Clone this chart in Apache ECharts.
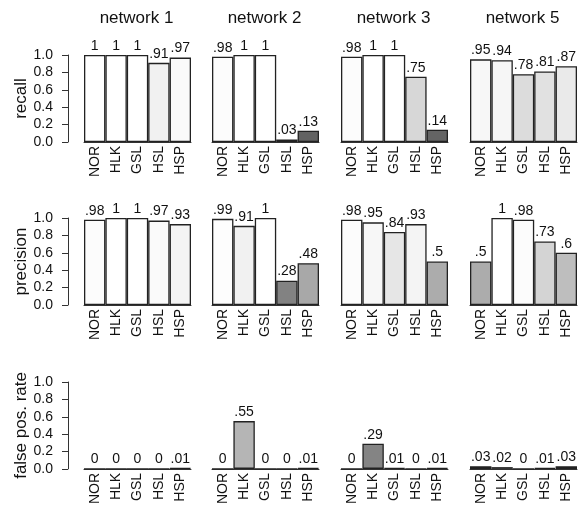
<!DOCTYPE html>
<html>
<head>
<meta charset="utf-8">
<script src="https://cdn.jsdelivr.net/npm/echarts@6/dist/echarts.min.js"></script>
<style>
  html, body { margin: 0; padding: 0; background: #fff; }
  #main { width: 584px; height: 507px; }
</style>
</head>
<body>
<div id="main"></div>
<script>
// categories and panels
var methods = ['NOR', 'HLK', 'GSL', 'HSL', 'HSP'];
var networks = ['network 1', 'network 2', 'network 3', 'network 5'];
var metrics = ['recall', 'precision', 'false pos. rate'];

// values, one array per network
var recall1 = [1, 1, 1, 0.91, 0.97];
var recall2 = [0.98, 1, 1, 0.03, 0.13];
var recall3 = [0.98, 1, 1, 0.75, 0.14];
var recall5 = [0.95, 0.94, 0.78, 0.81, 0.87];

var precision1 = [0.98, 1, 1, 0.97, 0.93];
var precision2 = [0.99, 0.91, 1, 0.28, 0.48];
var precision3 = [0.98, 0.95, 0.84, 0.93, 0.5];
var precision5 = [0.5, 1, 0.98, 0.73, 0.6];

var fpr1 = [0, 0, 0, 0, 0.01];
var fpr2 = [0, 0.55, 0, 0, 0.01];
var fpr3 = [0, 0.29, 0.01, 0, 0.01];
var fpr5 = [0.03, 0.02, 0, 0.01, 0.03];

var rows = [
  [recall1, recall2, recall3, recall5],
  [precision1, precision2, precision3, precision5],
  [fpr1, fpr2, fpr3, fpr5]
];

// layout of the small panels
var colLeft = [84, 212, 341, 470];
var colWidth = 107;
var rowTop = [55, 218, 382];
var rowHeight = 87;
var font = 'Liberation Sans, Arial, sans-serif';

// bar fill goes from dark grey (low) to white (high)
function grey(v) {
  var g = Math.round(60 + 195 * Math.pow(v, 0.8));
  return 'rgb(' + g + ',' + g + ',' + g + ')';
}

function fmt(v) {
  if (v === 1) return '1';
  if (v === 0) return '0';
  return String(v).replace(/^0/, '');
}

var grid = [], xAxis = [], yAxis = [], series = [], title = [];

networks.forEach(function (name, c) {
  title.push({
    text: name,
    left: colLeft[c] + colWidth / 2 - 6,
    top: 5,
    textAlign: 'center',
    textStyle: { fontFamily: font, fontSize: 17, fontWeight: 'normal', color: '#111' }
  });
});

rows.forEach(function (row, r) {
  row.forEach(function (vals, c) {
    var i = grid.length;
    grid.push({ left: colLeft[c], top: rowTop[r], width: colWidth, height: rowHeight });
    xAxis.push({
      type: 'category',
      gridIndex: i,
      data: methods,
      axisTick: { show: false },
      axisLine: { show: true, lineStyle: { color: '#333', width: 1 } },
      axisLabel: { rotate: 90, margin: 4, fontFamily: font, fontSize: 14, color: '#111', interval: 0 }
    });
    yAxis.push({
      type: 'value',
      gridIndex: i,
      min: 0,
      max: 1,
      interval: 0.2,
      show: c === 0,
      offset: 16,
      name: metrics[r],
      nameLocation: 'middle',
      nameGap: 37,
      nameTextStyle: { fontFamily: font, fontSize: 17, color: '#111' },
      splitLine: { show: false },
      axisLine: { show: true, lineStyle: { color: '#333' } },
      axisTick: { show: true, inside: false, length: 6, lineStyle: { color: '#333' } },
      axisLabel: {
        margin: 15,
        fontFamily: font,
        fontSize: 14,
        color: '#111',
        formatter: function (v) { return v.toFixed(1); }
      }
    });
    series.push({
      type: 'bar',
      xAxisIndex: i,
      yAxisIndex: i,
      data: vals,
      barCategoryGap: '0%',
      itemStyle: {
        color: function (p) { return grey(p.value); },
        borderColor: '#222',
        borderWidth: 1.3
      },
      label: {
        show: true,
        position: 'top',
        distance: 2,
        fontFamily: font,
        fontSize: 14,
        color: '#111',
        formatter: function (p) { return fmt(p.value); }
      },
      animation: false
    });
  });
});

var myChart = echarts.init(document.getElementById('main'));
myChart.setOption({
  animation: false,
  title: title,
  grid: grid,
  xAxis: xAxis,
  yAxis: yAxis,
  series: series
});
</script>
</body>
</html>
